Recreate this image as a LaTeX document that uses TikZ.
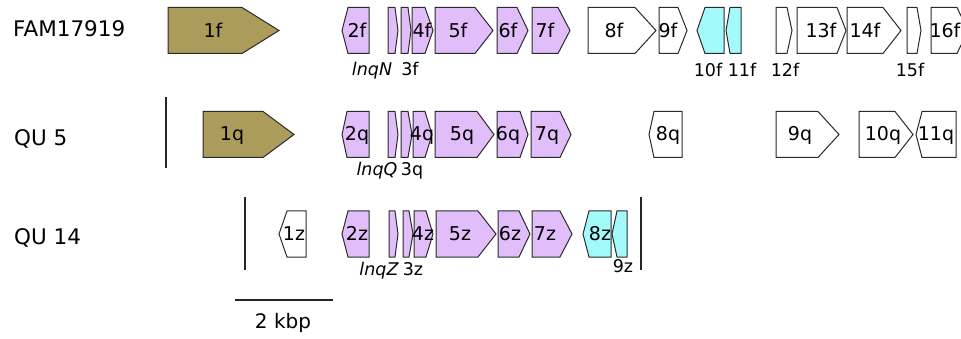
\documentclass[tikz,border=0pt]{standalone}
\usepackage{fontspec}
\setmainfont{DejaVu Sans}
\definecolor{genekhaki}{HTML}{AC9C5C}
\definecolor{genelilac}{HTML}{E1BDFA}
\definecolor{genecyan}{HTML}{A2FAFA}
\definecolor{geneedge}{HTML}{2A2A2A}

% forward gene: name, fill, start, head start, tip, row centre
\newcommand\fwdgene[6]{%
  \draw[gene,fill=#2] (#3,#6-23) coordinate (#1-a) -- (#4,#6-23) -- (#5,#6) coordinate (#1-b)
    -- (#4,#6+23) -- (#3,#6+23) -- cycle;}
% reverse gene: name, fill, tip, head end, right edge, row centre
\newcommand\revgene[6]{%
  \draw[gene,fill=#2] (#3,#6) coordinate (#1-a) -- (#4,#6-23) -- (#5,#6-23) coordinate (#1-b)
    -- (#5,#6+23) -- (#4,#6+23) -- cycle;}

\tikzset{
  gene/.style={draw=geneedge, line width=1pt, line join=miter},
  glabel/.style={anchor=base, inner sep=0pt, font=\fontsize{19}{19}\selectfont},
  sublabel/.style={anchor=base, inner sep=0pt, font=\fontsize{17.5}{17.5}\selectfont},
  rowlabel/.style={anchor=base west, inner sep=0pt, font=\fontsize{21.5}{21.5}\selectfont},
  boundary/.style={draw=black!85, line width=1.8pt},
}

\begin{document}
\begin{tikzpicture}[x=1pt, y=-1pt]
\useasboundingbox (0,0) rectangle (961,339);
\clip (0,0) rectangle (961,339);

% ---- row labels ----
\node[rowlabel] (nfam) at (13,37) {FAM17919};
\node[rowlabel] (nqu5) at (14,145.5) {QU 5};
\node[rowlabel] (nqu14) at (14,244) {QU 14};

% ---- FAM17919 ----
\def\ya{30.5}
\fwdgene{g1f}{genekhaki}{168}{242}{279}{\ya}
\revgene{g2f}{genelilac}{342}{348}{369}{\ya}
\fwdgene{gnf}{genelilac}{388}{395}{398}{\ya}
\fwdgene{g3f}{genelilac}{401}{408}{411}{\ya}
\fwdgene{g4f}{genelilac}{412}{425}{433}{\ya}
\fwdgene{g5f}{genelilac}{435}{475}{493}{\ya}
\fwdgene{g6f}{genelilac}{497}{517}{528}{\ya}
\fwdgene{g7f}{genelilac}{532}{558}{570}{\ya}
\fwdgene{g8f}{white}{588}{635}{656}{\ya}
\fwdgene{g9f}{white}{659}{678}{687}{\ya}
\revgene{g10f}{genecyan}{697}{705}{724}{\ya}
\revgene{g11f}{genecyan}{726}{730}{741}{\ya}
\fwdgene{g12f}{white}{776}{787}{792}{\ya}
\fwdgene{g13f}{white}{797}{837}{846}{\ya}
\fwdgene{g14f}{white}{847}{883}{901}{\ya}
\fwdgene{g15f}{white}{907}{917}{921}{\ya}
\fwdgene{g16f}{white}{931}{957}{968}{\ya}

\node[glabel] (t1f) at (213,\ya+7.5) {1f};
\node[glabel] (t2f) at (357,\ya+7.5) {2f};
\node[glabel] (t4f) at (422,\ya+7.5) {4f};
\node[glabel] (t5f) at (458,\ya+7.5) {5f};
\node[glabel] (t6f) at (508,\ya+7.5) {6f};
\node[glabel] (t7f) at (545,\ya+7.5) {7f};
\node[glabel] (t8f) at (614,\ya+7.5) {8f};
\node[glabel] (t9f) at (668,\ya+7.5) {9f};
\node[glabel] (t13f) at (821,\ya+7.5) {13f};
\node[glabel] (t14f) at (865,\ya+7.5) {14f};
\node[glabel] (t16f) at (945,\ya+7.5) {16f};

\node[sublabel] (snf) at (372,76) {\itshape lnqN};
\node[sublabel] (s3f) at (410,76) {3f};
\node[sublabel] (s10f) at (708,77) {10f};
\node[sublabel] (s11f) at (742,77) {11f};
\node[sublabel] (s12f) at (785,77) {12f};
\node[sublabel] (s15f) at (910,77) {15f};

% ---- QU 5 ----
\def\yb{134.5}
\coordinate (b5top) at (166,97);
\coordinate (b5bot) at (166,168);
\draw[boundary] (b5top) -- (b5bot);

\fwdgene{g1q}{genekhaki}{203}{263}{294}{\yb}
\revgene{g2q}{genelilac}{342}{347}{369}{\yb}
\fwdgene{gnq}{genelilac}{388}{395}{398}{\yb}
\fwdgene{g3q}{genelilac}{401}{408}{412}{\yb}
\fwdgene{g4q}{genelilac}{413}{425}{432}{\yb}
\fwdgene{g5q}{genelilac}{435}{477}{494}{\yb}
\fwdgene{g6q}{genelilac}{497}{520}{528}{\yb}
\fwdgene{g7q}{genelilac}{531}{560}{571}{\yb}
\revgene{g8q}{white}{649}{654}{682}{\yb}
\fwdgene{g9q}{white}{776}{818}{839}{\yb}
\fwdgene{g10q}{white}{859}{895}{913}{\yb}
\revgene{g11q}{white}{916}{922}{956}{\yb}

\node[glabel] (t1q) at (232,\yb+6.5) {1q};
\node[glabel] (t2q) at (357,\yb+6.5) {2q};
\node[glabel] (t4q) at (422,\yb+6.5) {4q};
\node[glabel] (t5q) at (462,\yb+6.5) {5q};
\node[glabel] (t6q) at (508,\yb+6.5) {6q};
\node[glabel] (t7q) at (547,\yb+6.5) {7q};
\node[glabel] (t8q) at (668,\yb+6.5) {8q};
\node[glabel] (t9q) at (800,\yb+6.5) {9q};
\node[glabel] (t10q) at (883,\yb+6.5) {10q};
\node[glabel] (t11q) at (936,\yb+6.5) {11q};

\node[sublabel] (snq) at (377,176) {\itshape lnqQ};
\node[sublabel] (s3q) at (412,176) {3q};

% ---- QU 14 ----
\def\yc{234}
\coordinate (b14ltop) at (245,197);
\coordinate (b14lbot) at (245,270);
\coordinate (b14rtop) at (641,197);
\coordinate (b14rbot) at (641,270);
\draw[boundary] (b14ltop) -- (b14lbot);
\draw[boundary] (b14rtop) -- (b14rbot);

\revgene{g1z}{white}{279}{287}{306}{\yc}
\revgene{g2z}{genelilac}{342}{348}{369}{\yc}
\fwdgene{gnz}{genelilac}{389}{395}{398}{\yc}
\fwdgene{g3z}{genelilac}{403}{409}{413}{\yc}
\fwdgene{g4z}{genelilac}{414}{426}{433}{\yc}
\fwdgene{g5z}{genelilac}{436}{478}{496}{\yc}
\fwdgene{g6z}{genelilac}{498}{519}{530}{\yc}
\fwdgene{g7z}{genelilac}{532}{560}{572}{\yc}
\revgene{g8z}{genecyan}{583}{589}{611}{\yc}
\revgene{g9z}{genecyan}{612}{617}{627}{\yc}

\node[glabel] (t1z) at (294,\yc+6.5) {1z};
\node[glabel] (t2z) at (357,\yc+6.5) {2z};
\node[glabel] (t4z) at (423,\yc+6.5) {4z};
\node[glabel] (t5z) at (460,\yc+6.5) {5z};
\node[glabel] (t6z) at (510,\yc+6.5) {6z};
\node[glabel] (t7z) at (545,\yc+6.5) {7z};
\node[glabel] (t8z) at (600,\yc+6.5) {8z};

\node[sublabel] (snz) at (379,275) {\itshape lnqZ};
\node[sublabel] (s3z) at (413,275) {3z};
\node[sublabel] (s9z) at (623,272) {9z};

% ---- scale bar ----
\coordinate (sbl) at (235,300);
\coordinate (sbr) at (333,300);
\draw[line width=1.4pt, draw=black!85] (sbl) -- (sbr);
\node[anchor=base, inner sep=0pt, font=\fontsize{20}{20}\selectfont] (sbt) at (283,328) {2 kbp};
\end{tikzpicture}
\end{document}
